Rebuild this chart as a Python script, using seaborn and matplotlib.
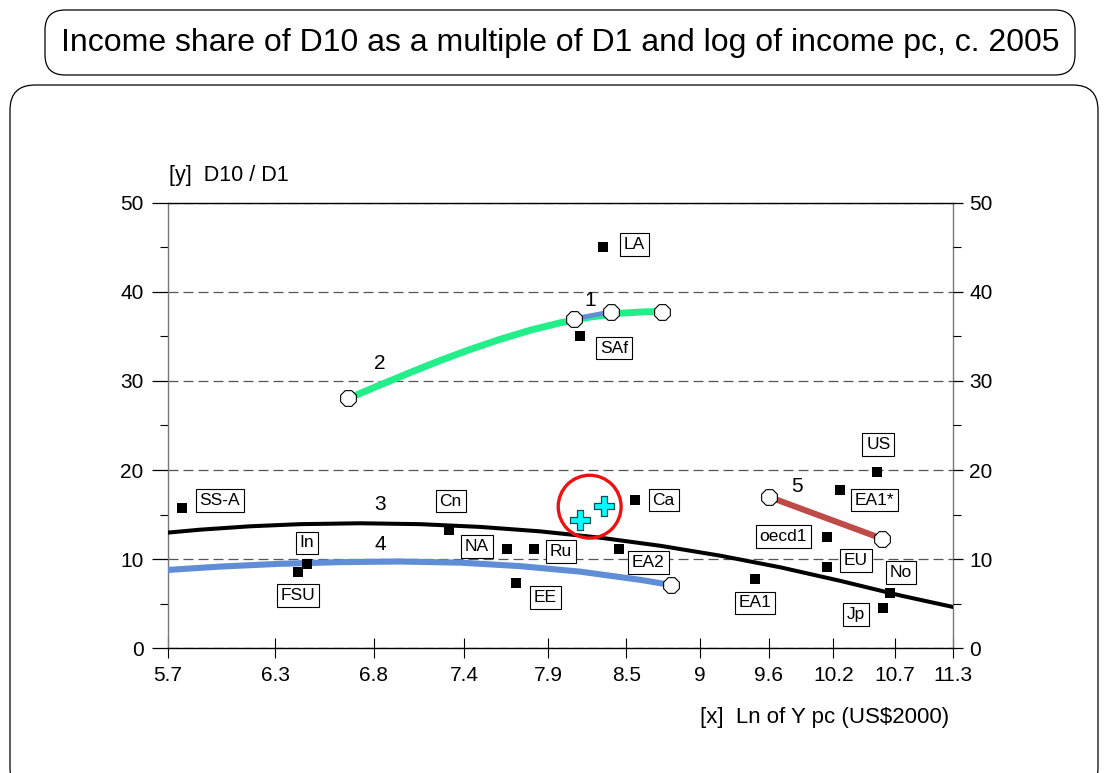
import numpy as np
import pandas as pd
import matplotlib
matplotlib.use("Agg")
import matplotlib.pyplot as plt
import seaborn as sns
from matplotlib.patches import FancyBboxPatch
from matplotlib.transforms import IdentityTransform
from matplotlib.ticker import FixedLocator, NullLocator, FixedFormatter

# ---------------- data ----------------
countries = ["LA", "SAf", "SS-A", "Cn", "In", "FSU", "NA", "Ru", "EE", "EA2",
             "Ca", "EA1", "oecd1", "EU", "EA1*", "US", "No", "Jp"]
ln_y = [8.33, 8.165, 5.77, 7.28, 6.434, 6.384, 7.66, 7.844, 7.722, 8.448,
        8.561, 9.506, 10.125, 10.12, 10.234, 10.576, 10.69, 10.628]
d10_d1 = [45.06, 35.04, 15.71, 13.27, 9.46, 8.60, 11.11, 11.11, 7.29, 11.11,
          16.64, 7.78, 12.52, 9.16, 17.76, 19.82, 6.17, 4.56]

cross_x = [8.165, 8.333]
cross_y = [14.40, 15.97]
highlight_x = [8.232]
highlight_y = [15.89]

curve1_x = [8.118, 8.389]
curve1_y = [36.95, 37.77]
curve2_x = [6.672, 6.859, 7.041, 7.227, 7.419, 7.616, 7.817, 8.025, 8.237, 8.455, 8.642, 8.768]
curve2_y = [28.05, 29.55, 30.95, 32.29, 33.54, 34.68, 35.69, 36.53, 37.17, 37.60, 37.76, 37.77]
curve3_x = [5.70, 5.863, 6.124, 6.397, 6.740, 7.102, 7.484, 7.886, 8.309, 8.756,
            9.225, 9.722, 10.243, 10.793, 11.30]
curve3_y = [12.98, 13.31, 13.69, 13.93, 14.03, 13.93, 13.62, 13.12, 12.41, 11.50,
            10.39, 9.08, 7.56, 5.92, 4.63]
curve4_x = [5.70, 5.966, 6.286, 6.624, 6.980, 7.355, 7.749, 8.165, 8.604, 8.840]
curve4_y = [8.79, 9.17, 9.48, 9.67, 9.74, 9.61, 9.22, 8.60, 7.68, 7.10]
curve5_x = [9.62, 10.62]
curve5_y = [17.01, 12.30]

x_ticks = [5.7, 6.26, 6.82, 7.38, 7.94, 8.5, 9.06, 9.62, 10.18, 10.74, 11.3]
x_tick_labels = ["5.7", "6.3", "6.8", "7.4", "7.9", "8.5", "9", "9.6", "10.2", "10.7", "11.3"]
y_ticks = [0, 10, 20, 30, 40, 50]
y_minor = [5, 15, 25, 35, 45]

title = "Income share of D10 as a multiple of D1 and log of income pc, c. 2005"

# ---------------- layout / style ----------------
label_offsets = {"LA": (31, 2), "SAf": (34, -12), "SS-A": (38, 8), "Cn": (2, 29),
                 "In": (0, 21), "FSU": (0, -24), "NA": (-30, 3), "Ru": (27, -2),
                 "EE": (29, -14), "EA2": (29, -13), "Ca": (29, 0), "EA1": (0, -24),
                 "oecd1": (-44, 0), "EU": (29, 6), "EA1*": (35, -10), "US": (1, 27),
                 "No": (11, 21), "Jp": (-27, -7)}
curve_label_pos = {"1": (8.237, 39.0), "2": (6.859, 32.0), "3": (6.859, 16.1),
                   "4": (6.859, 11.6), "5": (9.858, 18.2)}

GREEN = "#22EE8A"
BLUE = "#5F8ED6"
RED = "#BE4B48"

sns.set_theme(style="white")
plt.rcParams["font.family"] = ["Liberation Sans", "DejaVu Sans"]
plt.rcParams["text.color"] = "black"
plt.rcParams["xtick.color"] = "black"
plt.rcParams["ytick.color"] = "black"
plt.rcParams["axes.labelcolor"] = "black"

W, H = 1104, 773
fig = plt.figure(figsize=(W / 100, H / 100), dpi=100)
fig.patch.set_facecolor("white")

# frames
fig.patches.append(FancyBboxPatch((45, H - 75), 1030, 65,
                                  boxstyle="round,pad=0,rounding_size=20",
                                  transform=IdentityTransform(), fc="none",
                                  ec="black", lw=0.9, figure=fig, zorder=-5))
fig.patches.append(FancyBboxPatch((10, -20), 1088, H - 85 + 20,
                                  boxstyle="round,pad=0,rounding_size=25",
                                  transform=IdentityTransform(), fc="none",
                                  ec="black", lw=0.9, figure=fig, zorder=-5))
fig.text(560 / W, 1 - 43 / H, title, ha="center", va="center", fontsize=23)

ax_l, ax_r, ax_t, ax_b = 167.7, 953.3, 202.7, 648.3
ax = fig.add_axes([ax_l / W, 1 - ax_b / H, (ax_r - ax_l) / W, (ax_b - ax_t) / H])
ax.set_facecolor("none")

ax.set_xscale("log")
ax.set_xlim(5.7, 11.3)
ax.set_ylim(0, 50)

# dashed grid
ax.yaxis.grid(True, which="major", linestyle=(0, (8, 4)), color="#555555", lw=0.9)
ax.xaxis.grid(False)

# curves
line_kw = dict(sort=False, estimator=None, ax=ax, zorder=3)
sns.lineplot(x=curve2_x, y=curve2_y, color=GREEN, lw=5, solid_joinstyle="round", **line_kw)
sns.lineplot(x=curve1_x, y=curve1_y, color=BLUE, lw=3.4, **line_kw)
sns.lineplot(x=curve3_x, y=curve3_y, color="black", lw=2.9, solid_joinstyle="round", **line_kw)
sns.lineplot(x=curve4_x, y=curve4_y, color=BLUE, lw=4.4, solid_joinstyle="round", **line_kw)
sns.lineplot(x=curve5_x, y=curve5_y, color=RED, lw=4.4, **line_kw)

# endpoint circles
end_x = [curve2_x[0], curve2_x[-1], curve1_x[0], curve1_x[-1], curve4_x[-1], curve5_x[0], curve5_x[-1]]
end_y = [curve2_y[0], curve2_y[-1], curve1_y[0], curve1_y[-1], curve4_y[-1], curve5_y[0], curve5_y[-1]]
sns.scatterplot(x=end_x, y=end_y, marker="8", s=150, color="white", edgecolor="black",
                linewidth=0.8, ax=ax, zorder=5, legend=False)

# country points
df = pd.DataFrame({"country": countries, "ln_y": ln_y, "d10_d1": d10_d1})
sns.scatterplot(data=df, x="ln_y", y="d10_d1", marker="s", s=55, color="black",
                linewidth=0, ax=ax, zorder=6, legend=False)

# crosses + highlight
sns.scatterplot(x=cross_x, y=cross_y, marker="P", s=190, color="#00FFFF",
                edgecolor="#0B4F55", linewidth=0.9, ax=ax, zorder=6, legend=False)
sns.scatterplot(x=highlight_x, y=highlight_y, marker="o", s=2050, facecolor="none",
                edgecolor="#EE1111", linewidth=2.4, ax=ax, zorder=6, legend=False)

for name, x, y in zip(countries, ln_y, d10_d1):
    dx, dy = label_offsets[name]
    ax.annotate(name, (x, y), xytext=(dx, dy), textcoords="offset pixels",
                ha="center", va="center", fontsize=12.5, zorder=7,
                bbox=dict(boxstyle="square,pad=0.22", fc="white", ec="black", lw=0.8))

for k, (x, y) in curve_label_pos.items():
    ax.text(x, y, k, ha="center", va="center", fontsize=15, zorder=7)

# axes styling
for s in ["left", "right"]:
    ax.spines[s].set_color("#777777")
    ax.spines[s].set_linewidth(1.0)
for s in ["top", "bottom"]:
    ax.spines[s].set_color("black")
    ax.spines[s].set_linewidth(1.0)

ax.xaxis.set_major_locator(FixedLocator(x_ticks))
ax.xaxis.set_major_formatter(FixedFormatter(x_tick_labels))
ax.xaxis.set_minor_locator(NullLocator())
ax.tick_params(axis="x", which="major", direction="inout", length=14, width=0.8,
               color="black", pad=6, labelsize=15, bottom=True, top=False)

ax.yaxis.set_major_locator(FixedLocator(y_ticks))
ax.yaxis.set_minor_locator(FixedLocator(y_minor))
ax.tick_params(axis="y", which="major", direction="out", length=11.5, width=0.9,
               color="black", pad=6, labelsize=15, left=True, right=False)
ax.tick_params(axis="y", which="minor", direction="out", length=5.8, width=0.8,
               color="black", left=True, right=False)

ax2 = ax.twinx()
ax2.set_ylim(0, 50)
ax2.yaxis.set_major_locator(FixedLocator(y_ticks))
ax2.yaxis.set_minor_locator(FixedLocator(y_minor))
ax2.tick_params(axis="y", which="major", direction="out", length=7.5, width=0.9,
                color="black", pad=4, labelsize=15, right=True, left=False)
ax2.tick_params(axis="y", which="minor", direction="out", length=5.5, width=0.8,
                color="black", right=True)
for s in ax2.spines.values():
    s.set_visible(False)
ax.set_xlabel("")
ax.set_ylabel("")
ax2.set_ylabel("")

ax.text(0.002, 1.062, "[y]  D10 / D1", transform=ax.transAxes, ha="left",
        va="center", fontsize=15.5)
ax.text(0.995, -0.155, "[x]  Ln of Y pc (US$2000)", transform=ax.transAxes,
        ha="right", va="center", fontsize=16)

fig.savefig("out.png", dpi=100, facecolor="white")
